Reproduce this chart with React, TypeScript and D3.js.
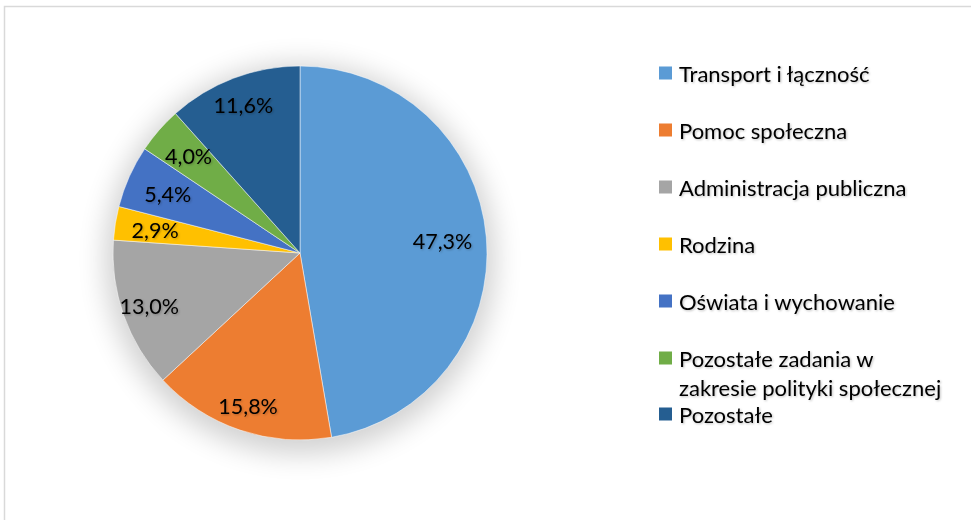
import React from "react";
import * as d3 from "d3";

const categories = [
  "Transport i łączność",
  "Pomoc społeczna",
  "Administracja publiczna",
  "Rodzina",
  "Oświata i wychowanie",
  "Pozostałe zadania w zakresie polityki społecznej",
  "Pozostałe",
];
const values = [47.3, 15.8, 13.0, 2.9, 5.4, 4.0, 11.6];
const colors = ["#5B9BD5", "#ED7D31", "#A5A5A5", "#FFC000", "#4472C4", "#70AD47", "#255E91"];
const legendLines = [
  ["Transport i łączność"],
  ["Pomoc społeczna"],
  ["Administracja publiczna"],
  ["Rodzina"],
  ["Oświata i wychowanie"],
  ["Pozostałe zadania w", "zakresie polityki społecznej"],
  ["Pozostałe"],
];

// layout: radial position of each data label as fraction of radius
const labelRadius = [0.765, 0.865, 0.855, 0.785, 0.775, 0.79, 0.85];

const W = 971, H = 520;
const cx = 300, cy = 253, R = 187;
const FONT = "Lato, 'Open Sans', sans-serif";

export default function App() {
  const pie = d3.pie<number>().sort(null).value((d) => d)(values);
  const arc = d3.arc<d3.PieArcDatum<number>>().innerRadius(0).outerRadius(R);
  const fmt = (v: number) => v.toFixed(1).replace(".", ",") + "%";

  const legendY = d3.scalePoint<number>().domain(d3.range(6)).range([73, 358]);
  const rowY = (i: number) => (i < 6 ? legendY(i)! : 414);

  return (
    <svg width={W} height={H} style={{ position: "absolute", left: 0, top: 0, background: "#fff" }}>
      <defs>
        <filter id="pieShadow" x="-50%" y="-50%" width="200%" height="200%">
          <feGaussianBlur stdDeviation="14" />
        </filter>
        <filter id="txtShadow" x="-20%" y="-20%" width="140%" height="160%">
          <feDropShadow dx="1" dy="1" stdDeviation="0.8" floodColor="#000" floodOpacity="0.25" />
        </filter>
      </defs>
      <rect x={4.5} y={6.5} width={W + 10} height={H + 10} fill="#fff" stroke="#d9d9d9" strokeWidth={1.5} />
      <circle cx={cx} cy={cy + 6} r={R + 8} fill="#000" opacity={0.18} filter="url(#pieShadow)" />
      <g transform={`translate(${cx},${cy})`}>
        {pie.map((p, i) => (
          <path key={i} d={arc(p)!} fill={colors[i]} stroke="#fff" strokeWidth={0.5} />
        ))}
        {pie.map((p, i) => {
          const lr = R * labelRadius[i];
          const [x, y] = d3.arc<d3.PieArcDatum<number>>().innerRadius(lr).outerRadius(lr).centroid(p);
          return (
            <text
              key={"l" + i}
              x={x}
              y={y}
              textAnchor="middle"
              dominantBaseline="central"
              fontFamily={FONT}
              fontSize={21.5}
              fill="#000"
              filter="url(#txtShadow)"
            >
              {fmt(values[i])}
            </text>
          );
        })}
      </g>
      <g>
        {categories.map((c, i) => (
          <g key={c}>
            <rect x={659} y={rowY(i) - 6.5} width={13} height={13} fill={colors[i]} />
            {legendLines[i].map((line, j) => (
              <text
                key={j}
                x={679}
                y={rowY(i) + j * 29}
                dominantBaseline="central"
                fontFamily={FONT}
                fontSize={22}
                fill="#000"
                filter="url(#txtShadow)"
              >
                {line}
              </text>
            ))}
          </g>
        ))}
      </g>
    </svg>
  );
}
